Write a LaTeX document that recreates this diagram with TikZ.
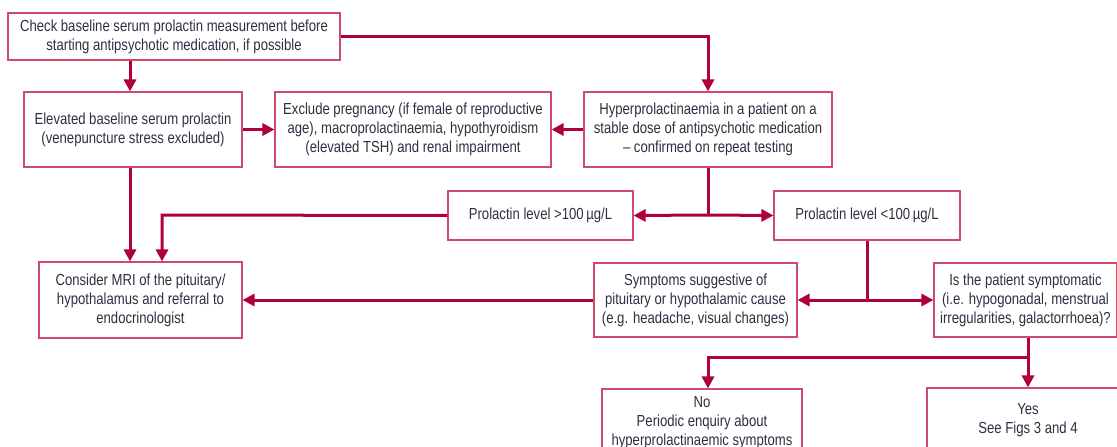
\documentclass[tikz,border=0pt]{standalone}
\usepackage{fontspec}
\setmainfont{Liberation Sans}[FakeStretch=0.82]
\usetikzlibrary{arrows.meta,calc}
\definecolor{boxline}{HTML}{D04A6E}
\definecolor{arrowc}{HTML}{B0003A}
\definecolor{txt}{HTML}{2E3040}
\tikzset{
  fbox/.style={draw=boxline, line width=1.1pt, rectangle, inner sep=0pt, align=center,
    text=txt, font=\fontsize{16}{19}\selectfont},
  conn/.style={draw=arrowc, line width=3pt},
  arr/.style={conn, -{Triangle[length=12pt,width=12pt]}},
}
\newcommand{\bx}[7]{% name, x1, y1, x2, y2, text
  \node[fbox, minimum width={#4-#2}, minimum height={#5-#3}] (#1) at ({(#2+#4)/2},{(#3+#5)/2}) {#6};}
\begin{document}
\begin{tikzpicture}[x=1pt,y=-1pt]
\useasboundingbox (0,0) rectangle (1117,447);
\clip (0,0) rectangle (1117,447);
\fill[white] (0,0) rectangle (1117,447);
\bx{B1}{8}{13}{340}{60}{Check baseline serum prolactin measurement before\\starting antipsychotic medication, if possible}{}
\bx{B2}{24}{92}{242}{167}{Elevated baseline serum prolactin\\(venepuncture stress excluded)}{}
\bx{B3}{275}{92}{551}{167}{Exclude pregnancy (if female of reproductive\\age), macroprolactinaemia, hypothyroidism\\(elevated TSH) and renal impairment}{}
\bx{B4}{584}{92}{832}{167}{Hyperprolactinaemia in a patient on a\\stable dose of antipsychotic medication\\– confirmed on repeat testing}{}
\bx{B5}{448}{191}{633}{240}{Prolactin level >100\,µg/L}{}
\bx{B6}{774}{191}{960}{240}{Prolactin level <100\,µg/L}{}
\bx{B7}{39}{262}{242}{338}{Consider MRI of the pituitary/\\hypothalamus and referral to\\endocrinologist}{}
\bx{B8}{594}{263}{797}{337}{Symptoms suggestive of\\pituitary or hypothalamic cause\\(e.g. headache, visual changes)}{}
\bx{B9}{934}{263}{1117}{337}{Is the patient symptomatic\\(i.e. hypogonadal, menstrual\\irregularities, galactorrhoea)?}{}
\bx{B10}{602}{389}{802}{457}{No\\Periodic enquiry about\\hyperprolactinaemic symptoms}{}
\bx{B11}{927}{388}{1129}{452}{Yes\\See Figs 3 and 4}{}
% helper coordinates
\coordinate (xa) at (130,0);
\coordinate (xb) at (162,215);
\coordinate (j1) at (708,215);
\coordinate (j2) at (867,300);
\coordinate (j3) at (1028,357);
\coordinate (xc) at (708,357);
% connectors
\draw[arr] (B1.south -| xa) -- (B2.north -| xa);
\draw[arr] (B1.east) -| (B4.north);
\draw[arr] (B2.east) -- (B3.west);
\draw[arr] (B4.west) -- (B3.east);
\draw[arr] (B2.south -| xa) -- (B7.north -| xa);
\draw[conn] (B4.south) -- (j1);
\draw[arr] (j1) -- (B5.east);
\draw[arr] (j1) -- (B6.west);
\draw[arr] (B5.west) -- (xb) -- (B7.north -| xb);
\draw[conn] (B6.south -| j2) -- (j2);
\draw[arr] (j2) -- (B8.east);
\draw[arr] (j2) -- (B9.west);
\draw[arr] (B8.west) -- (B7.east);
\draw[conn] (B9.south -| j3) -- (j3);
\draw[arr] (j3) -- (B11.north -| j3);
\draw[arr] (j3) -- (xc) -- (B10.north -| xc);
\end{tikzpicture}
\end{document}
